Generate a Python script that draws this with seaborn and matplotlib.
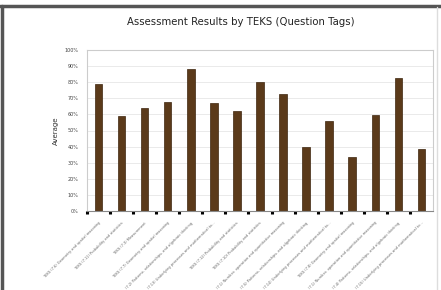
import numpy as np
import pandas as pd
import seaborn as sns
import matplotlib.pyplot as plt
from matplotlib.lines import Line2D
from matplotlib.ticker import FuncFormatter, FixedLocator

sns.set_theme(style="whitegrid")
plt.rcParams["font.family"] = ["DejaVu Sans"]

# Question tags (read as best as possible from the blurry labels)
tags = [
    "TEKS (7.6) Geometry and spatial reasoning",
    "TEKS (7.11) Probability and statistics",
    "TEKS (7.3) Measurement",
    "TEKS (7.7) Geometry and spatial reasoning",
    "(7.2) Patterns, relationships, and algebraic thinking",
    "(7.13) Underlying processes and mathematical to...",
    "TEKS (7.12) Probability and statistics",
    "TEKS (7.10) Probability and statistics",
    "(7.1) Number, operation and quantitative reasoning",
    "(7.5) Patterns, relationships, and algebraic thinking",
    "(7.14) Underlying processes and mathematical to...",
    "TEKS (7.8) Geometry and spatial reasoning",
    "(7.1) Number, operation and quantitative reasoning",
    "(7.4) Patterns, relationships, and algebraic thinking",
    "(7.15) Underlying processes and mathematical to...",
]
averages = [0.79, 0.59, 0.64, 0.675, 0.88, 0.67, 0.62, 0.80, 0.725,
            0.40, 0.56, 0.335, 0.595, 0.825, 0.385]

df = pd.DataFrame({"pos": [str(i) for i in range(len(tags))], "Average": averages})

fig = plt.figure(figsize=(4.41, 2.90), dpi=100)
fig.patch.set_facecolor("white")
ax = fig.add_axes([0.197, 0.272, 0.785, 0.556])

sns.barplot(data=df, x="pos", y="Average", color="#5b3a1a", width=0.33,
            saturation=1, edgecolor="#3e260f", linewidth=0.5, ax=ax)

ax.set_xlim(-0.5, len(tags) - 0.5)
ax.set_ylim(0, 1.0)
ax.yaxis.set_major_locator(FixedLocator(np.arange(0, 1.01, 0.1)))
ax.yaxis.set_major_formatter(FuncFormatter(lambda v, p: f"{v*100:.0f}%"))
ax.tick_params(axis="y", labelsize=3.5, labelcolor="#444444", length=0, pad=6)

# category labels, rotated
ax.set_xticks(range(len(tags)))
ax.set_xticklabels(tags, rotation=45, ha="right", rotation_mode="anchor",
                   fontsize=2.6, color="#666666")
ax.tick_params(axis="x", length=0, pad=7)
# black boundary tick marks
ax.set_xticks(np.arange(-0.5, len(tags) - 0.5, 1), minor=True)
ax.tick_params(axis="x", which="minor", length=2.2, width=2.2, color="black",
               direction="out", bottom=True)

ax.grid(axis="y", color="#e6e6e6", linewidth=0.6)
ax.grid(axis="x", visible=False)
for s in ax.spines.values():
    s.set_color("#cccccc")
    s.set_linewidth(0.8)
ax.spines["bottom"].set_color("#888888")

ax.set_xlabel("")
ax.set_ylabel("Average", fontsize=5, color="#333333", labelpad=4)

fig.text(0.545, 0.925, "Assessment Results by TEKS (Question Tags)",
         ha="center", va="center", fontsize=7.3, color="#222222")

# screenshot frame
fig.add_artist(Line2D([0, 1], [0.978, 0.978], transform=fig.transFigure,
                      color="#555555", linewidth=2.5))
fig.add_artist(Line2D([0.004, 0.004], [0, 0.98], transform=fig.transFigure,
                      color="#555555", linewidth=2.5))
fig.add_artist(Line2D([0.992, 0.992], [0, 0.975], transform=fig.transFigure,
                      color="#dddddd", linewidth=1))

fig.savefig("out.png", dpi=100)
